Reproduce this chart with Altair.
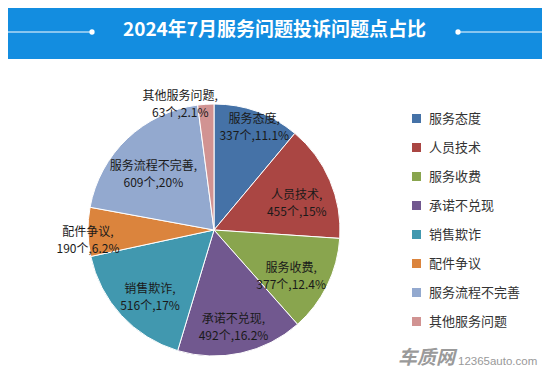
import altair as alt
import pandas as pd

title_text = "2024年7月服务问题投诉问题点占比"
categories = ["服务态度", "人员技术", "服务收费", "承诺不兑现", "销售欺诈", "配件争议", "服务流程不完善", "其他服务问题"]
counts = [337, 455, 377, 492, 516, 190, 609, 63]
percents = ["11.1%", "15%", "12.4%", "16.2%", "17%", "6.2%", "20%", "2.1%"]
colors = ["#4572A7", "#AA4643", "#89A54E", "#71588F", "#4198AF", "#DB843D", "#93A9CF", "#D19392"]
# radial distance of each data label from the pie centre (px)
label_radius = [118, 90, 86, 91, 87, 126, 88, 134]
outside_label = "其他服务问题"

FONT = "Noto Sans CJK SC"
CX, CY, R = 206, 222, 126
W, H = 534, 364

labels = [f"{c},\n{n}个,{p}" for c, n, p in zip(categories, counts, percents)]
df = pd.DataFrame({
    "cat": categories,
    "value": counts,
    "idx": list(range(len(categories))),
    "lr": label_radius,
    "label1": [l if c != outside_label else "" for c, l in zip(categories, labels)],
    "label2": [l if c == outside_label else "" for c, l in zip(categories, labels)],
})

arcs = alt.Chart(df).mark_arc(outerRadius=R, stroke="white", strokeWidth=1).encode(
    theta=alt.Theta("value:Q", stack=True),
    order=alt.Order("idx:Q"),
    x=alt.value(CX),
    y=alt.value(CY),
    color=alt.Color(
        "cat:N",
        sort=categories,
        scale=alt.Scale(domain=categories, range=colors),
        legend=alt.Legend(
            title=None, orient="none", legendX=402, legendY=104,
            symbolType="square", symbolSize=81, symbolStrokeWidth=0,
            labelFontSize=13, labelFont=FONT, labelColor="#333333",
            rowPadding=15, labelOffset=6, padding=0, labelLimit=200,
        ),
    ),
)

label_base = alt.Chart(df).transform_window(
    cum="sum(value)", sort=[alt.SortField("idx")], frame=[None, 0]
).transform_joinaggregate(
    total="sum(value)"
).transform_calculate(
    ang="(datum.cum - datum.value / 2) / datum.total * 2 * PI"
).encode(
    theta=alt.Theta("ang:Q", scale=None),
    radius=alt.Radius("lr:Q", scale=None),
    x=alt.value(CX),
    y=alt.value(CY),
)

text_kw = dict(lineBreak="\n", fontSize=12, font=FONT, color="#1a1a1a", lineHeight=17, baseline="middle", align="center")
texts = label_base.mark_text(**text_kw).encode(text="label1:N")
texts2 = label_base.mark_text(dx=-25, **text_kw).encode(text="label2:N")

one = pd.DataFrame({"a": [0]})
header = alt.Chart(one).mark_rect(color="#138de0").encode(
    x=alt.value(0), x2=alt.value(W), y=alt.value(0), y2=alt.value(51)
)
line_l = alt.Chart(one).mark_rule(color="white", strokeWidth=1).encode(
    x=alt.value(0), x2=alt.value(84), y=alt.value(24)
)
line_r = alt.Chart(one).mark_rule(color="white", strokeWidth=1).encode(
    x=alt.value(450), x2=alt.value(W), y=alt.value(24)
)
dot_l = alt.Chart(one).mark_point(filled=True, color="white", size=28, opacity=1).encode(
    x=alt.value(84), y=alt.value(24)
)
dot_r = alt.Chart(one).mark_point(filled=True, color="white", size=28, opacity=1).encode(
    x=alt.value(450), y=alt.value(24)
)
title = alt.Chart(pd.DataFrame({"t": [title_text]})).mark_text(
    font=FONT, fontSize=19, fontWeight="bold", color="white", align="center", baseline="middle"
).encode(text="t:N", x=alt.value(266.5), y=alt.value(21.5))

wm1 = alt.Chart(pd.DataFrame({"t": ["车质网"]})).mark_text(
    font=FONT, fontSize=19, fontWeight="bold", fontStyle="italic", color="#9a9a9a", align="left", baseline="middle"
).encode(text="t:N", x=alt.value(390), y=alt.value(350))
wm2 = alt.Chart(pd.DataFrame({"t": ["12365auto.com"]})).mark_text(
    font="Liberation Sans", fontSize=11.5, color="#999999", align="left", baseline="middle"
).encode(text="t:N", x=alt.value(450), y=alt.value(354))

chart = alt.layer(
    header, line_l, line_r, dot_l, dot_r, title, arcs, texts, texts2, wm1, wm2
).properties(
    width=W, height=H, autosize="none", padding=0, background="white"
).configure_view(stroke=None)

chart.save("out.html", embed_options={"renderer": "svg", "actions": False})
